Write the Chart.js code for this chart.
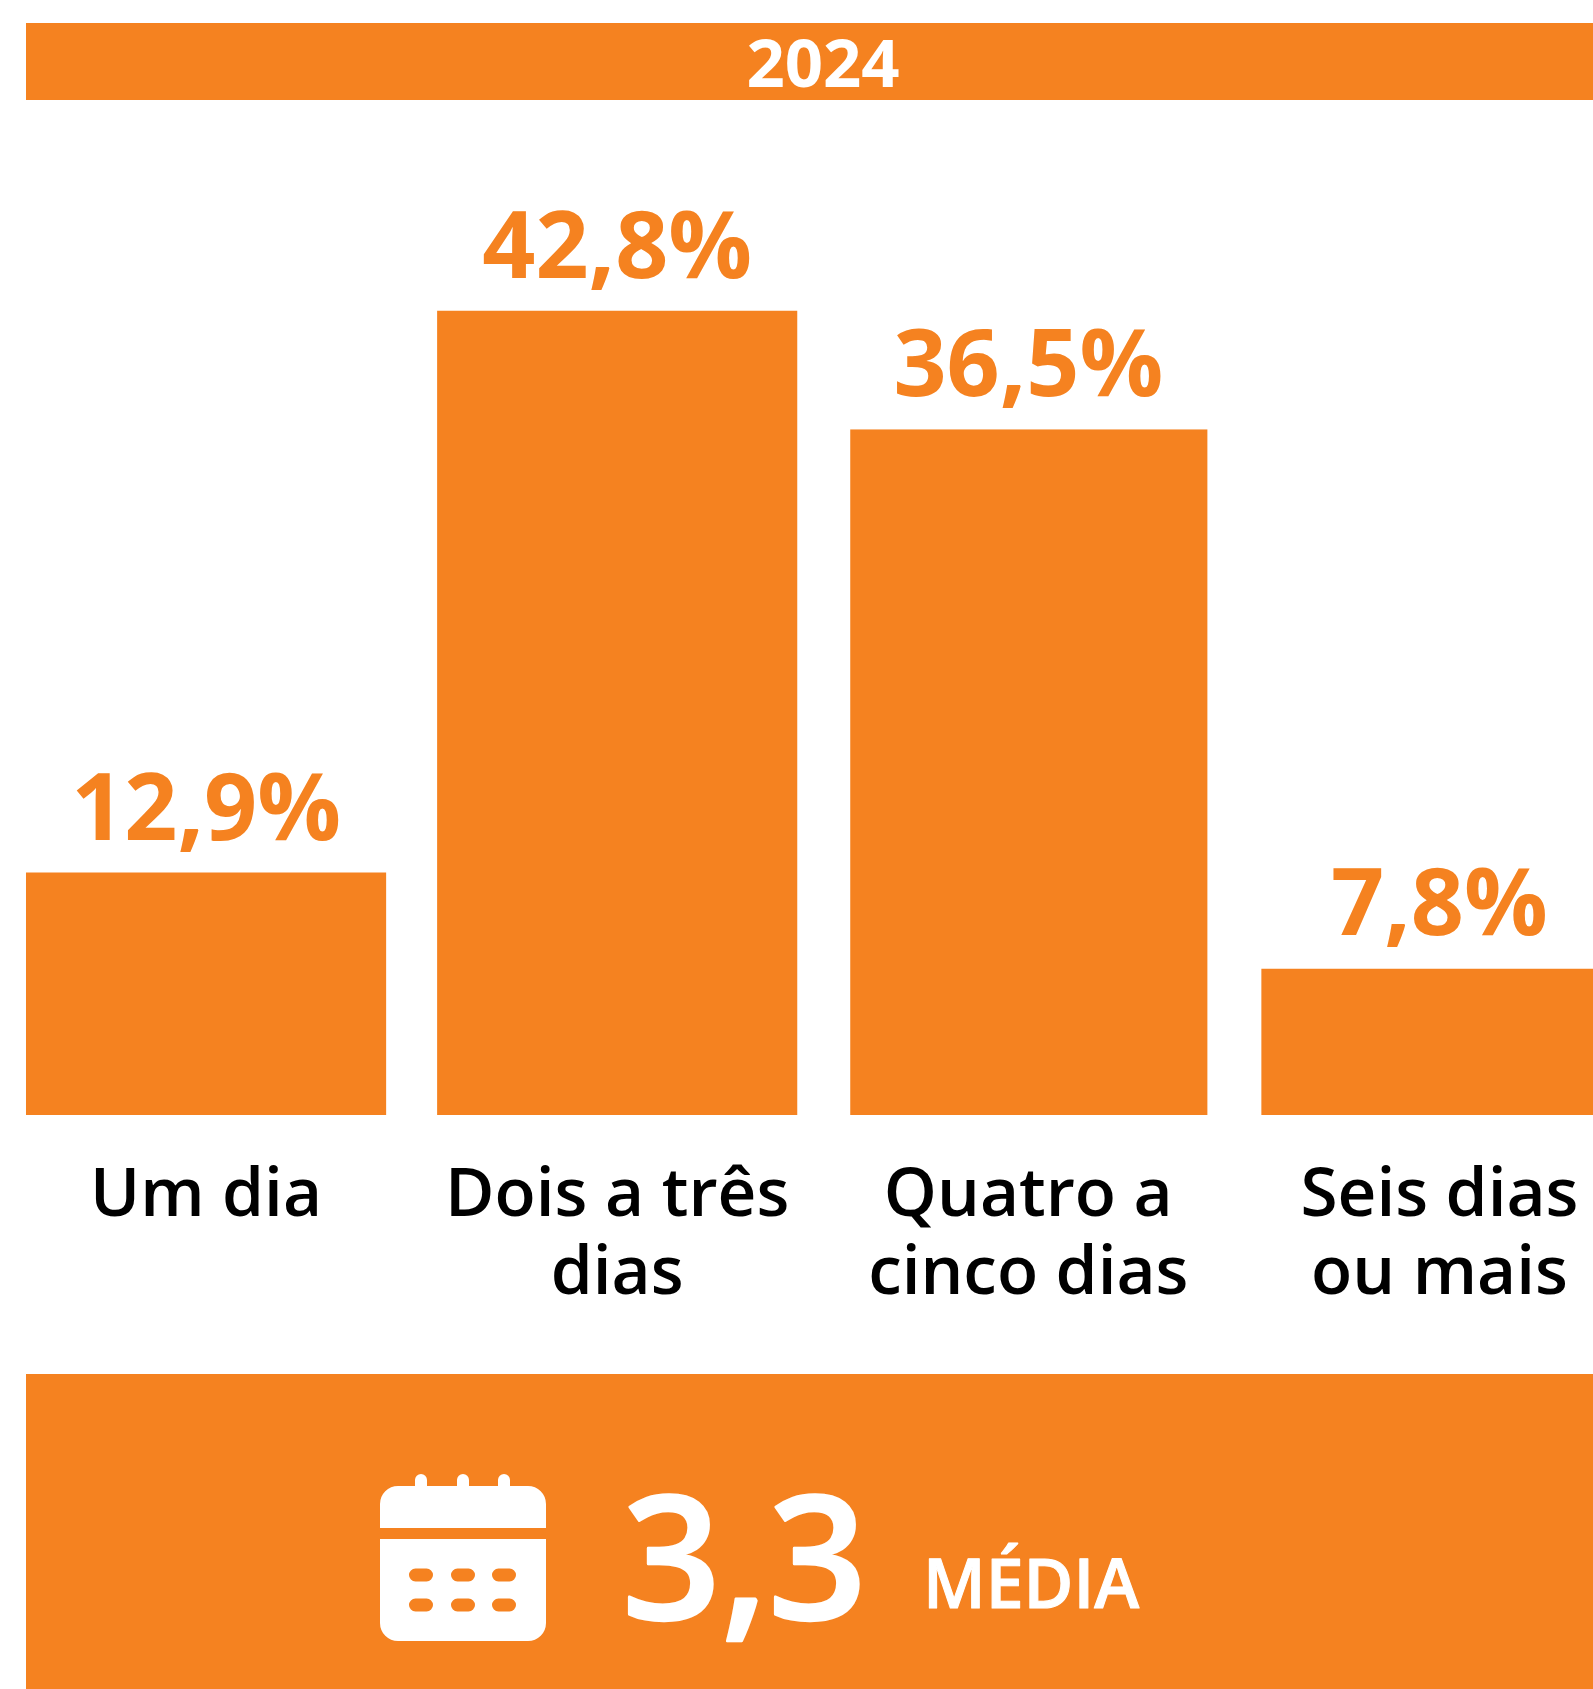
<!DOCTYPE html>
<html lang="pt">
<head>
<meta charset="utf-8">
<title>2024</title>
<style>
html,body{margin:0;padding:0;background:#fff;overflow:hidden;width:1593px;height:1689px}
canvas{display:block;position:absolute;left:0;top:0}
</style>
<script src="https://cdn.jsdelivr.net/npm/chart.js@4/dist/chart.umd.min.js"></script>
</head>
<body>
<canvas id="c" width="1645" height="1689" style="width:1645px;height:1689px"></canvas>
<script>
const categories = [["Um dia"], ["Dois a três", "dias"], ["Quatro a", "cinco dias"], ["Seis dias", "ou mais"]];
const values = [12.9, 42.8, 36.5, 7.8];
const yearLabel = "2024";
const meanValue = "3,3";
const meanLabel = "MÉDIA";
const ORANGE = "#F58220";
const FONT = "'Open Sans'";

const decor = {
  id: "decor",
  beforeDraw(chart) {
    const c = chart.ctx;
    c.save();
    c.fillStyle = "#fff";
    c.fillRect(0, 0, chart.width, chart.height);
    c.fillStyle = ORANGE;
    c.fillRect(26, 23, 1619, 77);
    c.fillRect(26, 1374, 1619, 315);
    c.restore();
  },
  afterDraw(chart) {
    const c = chart.ctx;
    c.save();
    const meta = chart.getDatasetMeta(0);
    c.fillStyle = ORANGE;
    c.textAlign = "center";
    c.textBaseline = "alphabetic";
    c.font = "700 93px " + FONT;
    meta.data.forEach((bar, i) => {
      c.fillText(values[i].toFixed(1).replace(".", ",") + "%", bar.x, bar.y - 33);
    });
    c.fillStyle = "#fff";
    c.strokeStyle = "#fff";
    c.lineJoin = "round";
    c.font = "700 67px " + FONT;
    c.fillText(yearLabel, 823, 87);
    c.textAlign = "left";
    c.font = "600 173px " + FONT;
    c.lineWidth = 2.5;
    c.fillText(meanValue, 622, 1619);
    c.strokeText(meanValue, 622, 1619);
    c.font = "600 68px " + FONT;
    c.lineWidth = 1;
    c.fillText(meanLabel, 923, 1608);
    c.strokeText(meanLabel, 923, 1608);
    c.beginPath();
    c.roundRect(380, 1486, 166, 42, [18, 18, 0, 0]);
    c.roundRect(380, 1539, 166, 102, [0, 0, 18, 18]);
    [421, 463, 504].forEach(x => c.roundRect(x - 6, 1474, 12, 15, [6, 6, 0, 0]));
    c.fill();
    c.fillStyle = ORANGE;
    c.beginPath();
    [1575, 1605].forEach(y => [421, 463, 504].forEach(x => c.roundRect(x - 12, y - 6.5, 24, 13, 6.5)));
    c.fill();
    c.restore();
  }
};

new Chart(document.getElementById("c"), {
  type: "bar",
  data: {
    labels: categories,
    datasets: [{
      data: values,
      backgroundColor: ORANGE,
      borderColor: "#fff",
      borderWidth: ctx => [0, 0, { left: 2, right: 1 }, { left: 2 }][ctx.dataIndex],
      categoryPercentage: 1,
      barPercentage: 0.876
    }]
  },
  options: {
    responsive: false,
    animation: false,
    devicePixelRatio: 1,
    layout: { padding: { top: 175.5, left: 0.5, right: 0, bottom: 0 } },
    plugins: { legend: { display: false }, tooltip: { enabled: false }, title: { display: false } },
    scales: {
      y: { display: false, min: 0, max: 50 },
      x: {
        grid: { display: false },
        border: { display: false },
        afterFit(s) { s.height = 574; },
        ticks: {
          color: "#000",
          maxRotation: 0,
          autoSkip: false,
          padding: 35,
          font: { family: FONT, size: 67.5, weight: "600", lineHeight: "78px" }
        }
      }
    }
  },
  plugins: [decor]
});
</script>
</body>
</html>
